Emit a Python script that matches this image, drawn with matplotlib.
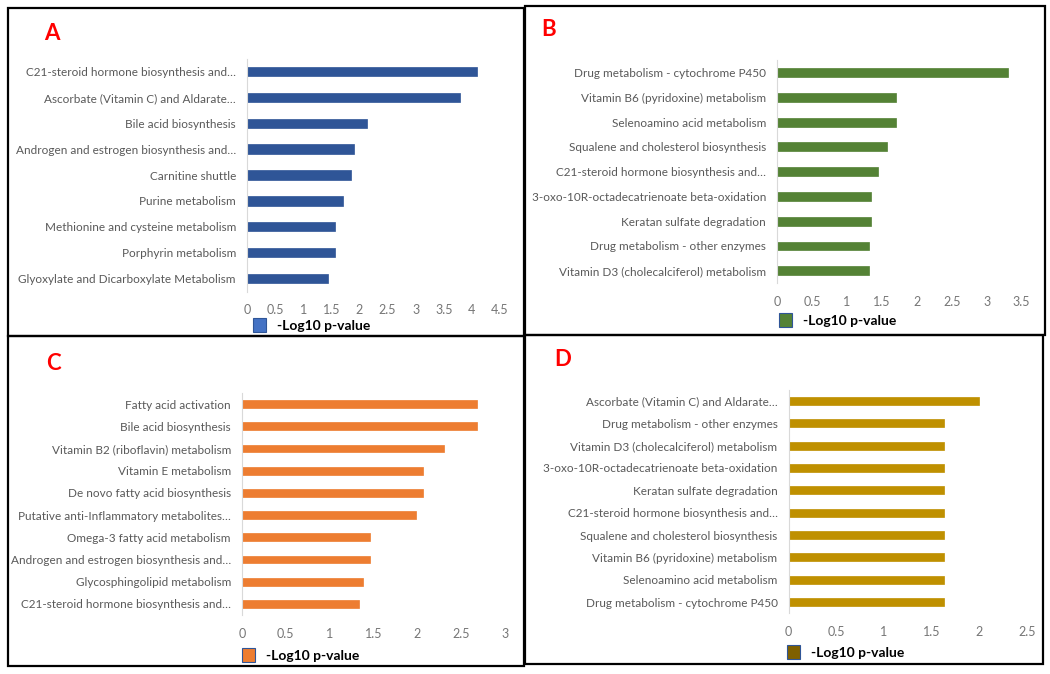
import matplotlib
matplotlib.use("Agg")
import matplotlib.pyplot as plt
from matplotlib.patches import Patch, Rectangle
from matplotlib.ticker import MultipleLocator, FuncFormatter

plt.rcParams['font.family'] = ['Lato', 'DejaVu Sans']

# panel A
a_labels = ["C21-steroid hormone biosynthesis and…",
            "Ascorbate (Vitamin C) and Aldarate…",
            "Bile acid biosynthesis",
            "Androgen and estrogen biosynthesis and…",
            "Carnitine shuttle",
            "Purine metabolism",
            "Methionine and cysteine metabolism",
            "Porphyrin metabolism",
            "Glyoxylate and Dicarboxylate Metabolism"]
a_vals = [4.09, 3.79, 2.13, 1.90, 1.85, 1.70, 1.56, 1.56, 1.44]

# panel B
b_labels = ["Drug metabolism - cytochrome P450",
            "Vitamin B6 (pyridoxine) metabolism",
            "Selenoamino acid metabolism",
            "Squalene and cholesterol biosynthesis",
            "C21-steroid hormone biosynthesis and…",
            "3-oxo-10R-octadecatrienoate beta-oxidation",
            "Keratan sulfate degradation",
            "Drug metabolism - other enzymes",
            "Vitamin D3 (cholecalciferol) metabolism"]
b_vals = [3.31, 1.70, 1.70, 1.58, 1.44, 1.35, 1.35, 1.32, 1.32]

# panel C
c_labels = ["Fatty acid activation",
            "Bile acid biosynthesis",
            "Vitamin B2 (riboflavin) metabolism",
            "Vitamin E metabolism",
            "De novo fatty acid biosynthesis",
            "Putative anti-Inflammatory metabolites…",
            "Omega-3 fatty acid metabolism",
            "Androgen and estrogen biosynthesis and…",
            "Glycosphingolipid metabolism",
            "C21-steroid hormone biosynthesis and…"]
c_vals = [2.68, 2.68, 2.30, 2.07, 2.07, 1.98, 1.46, 1.46, 1.38, 1.34]

# panel D
d_labels = ["Ascorbate (Vitamin C) and Aldarate…",
            "Drug metabolism - other enzymes",
            "Vitamin D3 (cholecalciferol) metabolism",
            "3-oxo-10R-octadecatrienoate beta-oxidation",
            "Keratan sulfate degradation",
            "C21-steroid hormone biosynthesis and…",
            "Squalene and cholesterol biosynthesis",
            "Vitamin B6 (pyridoxine) metabolism",
            "Selenoamino acid metabolism",
            "Drug metabolism - cytochrome P450"]
d_vals = [2.00, 1.63, 1.63, 1.63, 1.63, 1.63, 1.63, 1.63, 1.63, 1.63]

W, H = 1050, 674
fig = plt.figure(figsize=(W / 100, H / 100), dpi=100)


def px_axes(x0, y0, x1, y1):
    # pixel box (top-left origin) -> axes
    return fig.add_axes([x0 / W, 1 - y1 / H, (x1 - x0) / W, (y1 - y0) / H])


def panel(box, labels, vals, xmax, bar_col, leg_col, letter, letter_xy, leg_xy):
    ax = px_axes(*box)
    n = len(vals)
    ax.barh(range(n), vals, height=0.36, color=bar_col, edgecolor=bar_col, linewidth=0.5)
    ax.set_ylim(n - 0.5, -0.5)
    ax.set_xlim(0, xmax)
    ax.set_yticks(range(n))
    ax.set_yticklabels(labels)
    ax.xaxis.set_major_locator(MultipleLocator(0.5))
    ax.xaxis.set_major_formatter(FuncFormatter(lambda v, p: "%g" % v))
    ax.tick_params(axis='both', length=0, labelsize=8.5, labelcolor='#595959')
    ax.tick_params(axis='x', labelsize=9, labelcolor='#767676')
    ax.tick_params(axis='y', pad=8)
    ax.tick_params(axis='x', pad=9)
    for s in ['top', 'right', 'bottom']:
        ax.spines[s].set_visible(False)
    ax.spines['left'].set_color('#D9D9D9')
    ax.spines['left'].set_linewidth(0.8)
    fig.text(letter_xy[0] / W, 1 - letter_xy[1] / H, letter, color='#FF0000',
             fontsize=16, fontweight='bold', ha='center', va='center')
    leg = ax.legend(handles=[Patch(facecolor=leg_col, edgecolor='#2F5597', linewidth=0.8)],
                    labels=["-Log10 p-value"], loc='center left',
                    bbox_to_anchor=(leg_xy[0] / W, 1 - leg_xy[1] / H),
                    bbox_transform=fig.transFigure, frameon=False,
                    handlelength=0.9, handleheight=1.1, handletextpad=0.8,
                    borderaxespad=0, borderpad=0)
    for t in leg.get_texts():
        t.set_fontweight('bold')
        t.set_fontsize(10)
    return ax


panel((247, 58.5, 500, 291.5), a_labels, a_vals, 4.5, '#2F5597', '#4472C4', 'A', (52, 34), (253, 325))
panel((777, 60.3, 1021.7, 283.1), b_labels, b_vals, 3.5, '#548235', '#548235', 'B', (549, 29), (779, 320))
panel((242, 393, 505, 615), c_labels, c_vals, 3, '#ED7D31', '#ED7D31', 'C', (53, 363), (242, 655))
panel((788.7, 389.8, 1026.7, 613.2), d_labels, d_vals, 2.5, '#BF9000', '#7F6000', 'D', (563, 360), (787, 652))

# panel frames
frames = [(8, 8, 524, 336), (525, 6, 1045, 335), (8, 336, 524, 666), (525, 335, 1043, 664)]
for x0, y0, x1, y1 in frames:
    fig.add_artist(Rectangle((x0 / W, 1 - y1 / H), (x1 - x0) / W, (y1 - y0) / H,
                             transform=fig.transFigure, fill=False, edgecolor='black',
                             linewidth=1.6))

fig.savefig("out.png", dpi=100)
